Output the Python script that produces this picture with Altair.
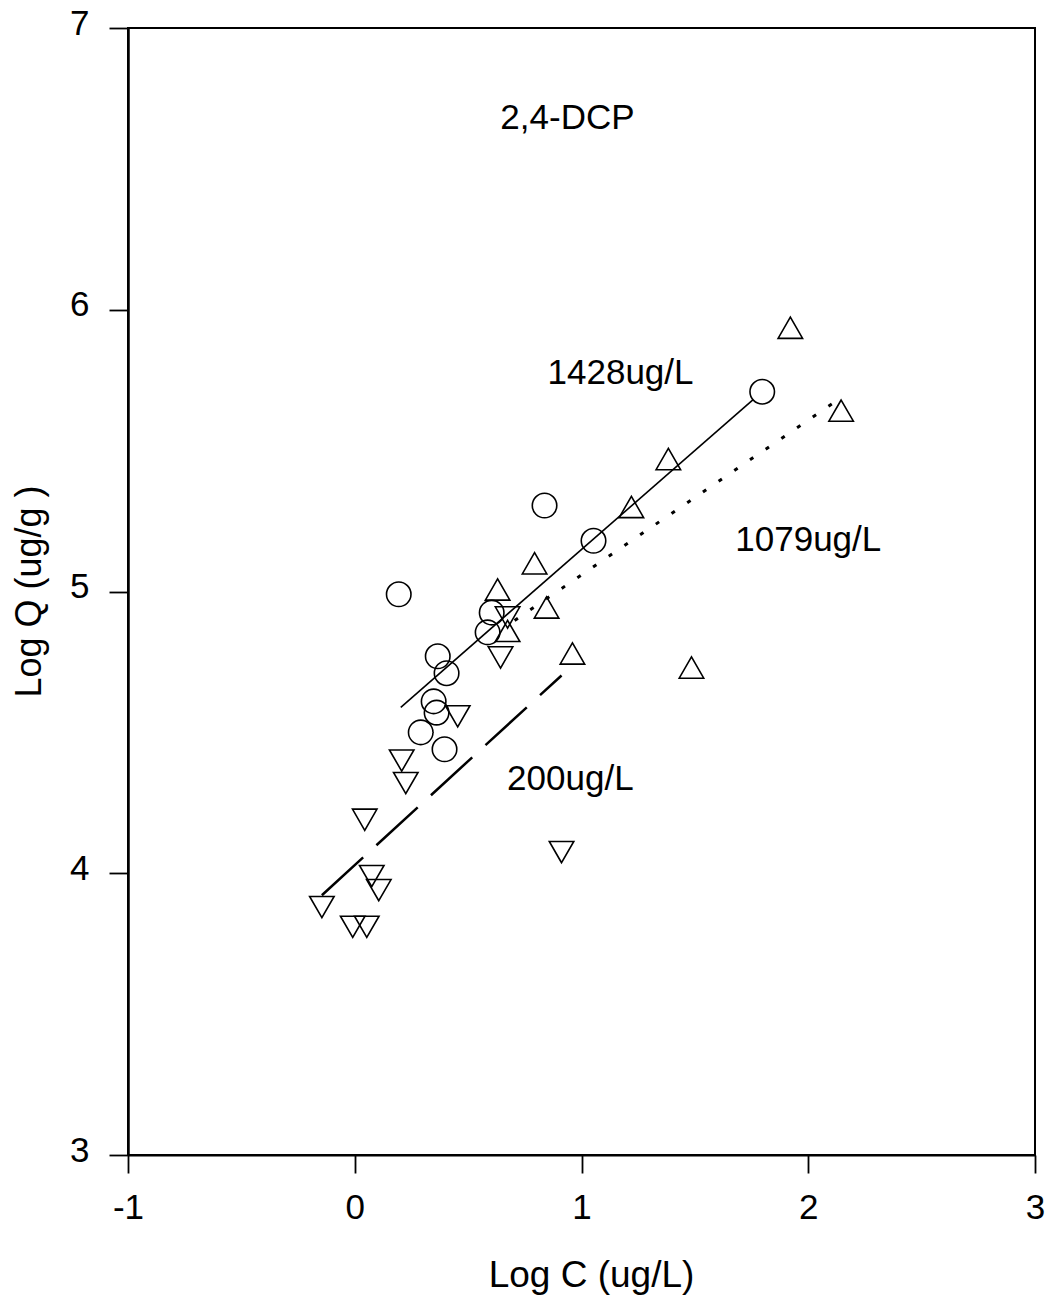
import altair as alt
import pandas as pd

# ---- data ----
circ_x = [0.194, 0.366, 0.405, 0.348, 0.361, 0.291, 0.396, 0.586, 0.604, 0.837, 1.053, 1.797]
circ_y = [4.99, 4.77, 4.71, 4.61, 4.57, 4.50, 4.44, 4.855, 4.925, 5.305, 5.18, 5.709]

up_x = [1.921, 2.145, 1.383, 1.220, 0.793, 0.630, 0.846, 0.674, 0.960, 1.485]
up_y = [5.936, 5.642, 5.47, 5.30, 5.10, 5.007, 4.943, 4.86, 4.78, 4.73]

down_x = [0.674, 0.643, 0.454, 0.207, 0.225, 0.044, 0.075, 0.106, -0.145, -0.009, 0.053, 0.912]
down_y = [4.908, 4.766, 4.557, 4.40, 4.32, 4.19, 3.99, 3.94, 3.88, 3.81, 3.81, 4.075]

# fitted lines (endpoints)
line1428_x = [0.203, 1.757]
line1428_y = [4.589, 5.681]
line1079_x = [0.705, 2.145]
line1079_y = [4.897, 5.688]
line200_x = [-0.145, 0.912]
line200_y = [3.922, 4.702]

label_text = ["2,4-DCP", "1428ug/L", "1079ug/L", "200ug/L"]
label_x = [0.938, 1.172, 2.0, 0.951]
label_y = [6.642, 5.738, 5.145, 4.294]

x_ticks = [-1, 0, 1, 2, 3]
y_ticks = [3, 4, 5, 6, 7]

FONT = "Liberation Sans"

pts = pd.DataFrame({
    "x": circ_x + up_x + down_x,
    "y": circ_y + up_y + down_y,
    "s": ["1428"] * len(circ_x) + ["1079"] * len(up_x) + ["200"] * len(down_x),
})

x_enc = alt.X(
    "x:Q",
    scale=alt.Scale(domain=[-1, 3], nice=False, zero=False),
    axis=alt.Axis(
        values=x_ticks, labelExpr="'' + datum.value", grid=False,
        labelFlush=False, labelOverlap=False, labelBound=False,
        tickSize=18, tickWidth=1.8, tickColor="black",
        domainColor="black", domainWidth=2,
        labelFont=FONT, labelFontSize=35, labelColor="black",
        labelPadding=17, labelBaseline="top",
        title="Log C (ug/L)", titleFont=FONT, titleFontSize=37,
        titleFontWeight="normal", titleColor="black",
        titleX=463, titleY=131, titleBaseline="alphabetic", titleAlign="center",
    ),
)
y_enc = alt.Y(
    "y:Q",
    scale=alt.Scale(domain=[3, 7], nice=False, zero=False),
    axis=alt.Axis(
        values=y_ticks, labelExpr="'' + datum.value", grid=False,
        labelFlush=False, labelOverlap=False, labelBound=False,
        tickSize=19, tickWidth=1.8, tickColor="black",
        domainColor="black", domainWidth=2.5,
        labelFont=FONT, labelFontSize=35, labelColor="black",
        labelPadding=20, labelBaseline="alphabetic", labelOffset=6,
        title="Log Q (ug/g )", titleFont=FONT, titleFontSize=36,
        titleFontWeight="normal", titleColor="black",
        titleAngle=270, titleX=-88, titleY=563,
        titleBaseline="alphabetic", titleAlign="center",
    ),
)

points = alt.Chart(pts).mark_point(
    filled=False, size=600, strokeWidth=1.6, color="black", opacity=1
).encode(
    x=x_enc, y=y_enc,
    shape=alt.Shape("s:N", scale=alt.Scale(domain=["1428", "1079", "200"],
                                           range=["circle", "triangle-up", "triangle-down"]),
                    legend=None),
)

def line_layer(xs, ys, **kw):
    df = pd.DataFrame({"x": xs, "y": ys})
    return alt.Chart(df).mark_line(color="black", **kw).encode(x=x_enc, y=y_enc)

l1 = line_layer(line1428_x, line1428_y, strokeWidth=1.6)
l2 = line_layer(line1079_x, line1079_y, strokeWidth=3, strokeDash=[4, 15])
l3 = line_layer(line200_x, line200_y, strokeWidth=2.5, strokeDash=[56, 18])

labels = alt.Chart(pd.DataFrame({"x": label_x, "y": label_y, "t": label_text})).mark_text(
    font=FONT, fontSize=35, color="black", align="center", baseline="alphabetic"
).encode(x=x_enc, y=y_enc, text="t:N")

chart = alt.layer(l1, l2, l3, points, labels).properties(
    width=907, height=1127,
    autosize=alt.AutoSizeParams(type="none"),
    padding={"left": 128, "top": 28, "right": 19, "bottom": 150},
    background="white",
).configure_view(stroke="black", strokeWidth=2)

chart.save("out.html", embed_options={"renderer": "svg", "actions": False})
